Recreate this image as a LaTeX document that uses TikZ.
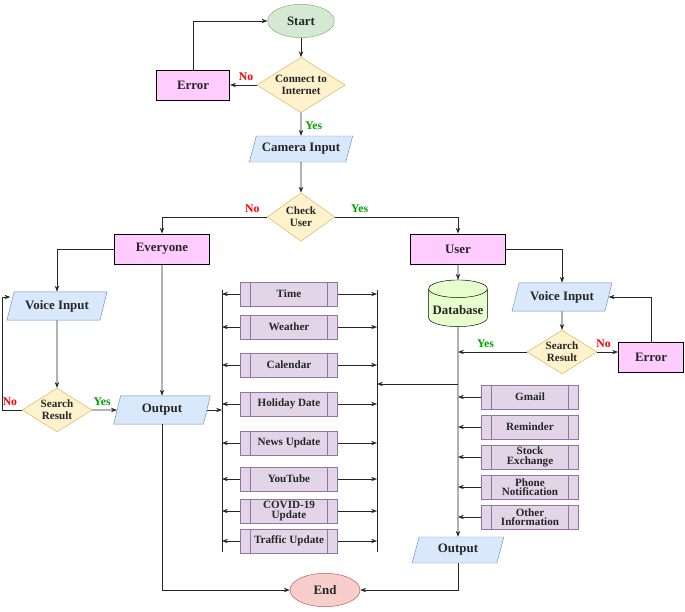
\documentclass[tikz,border=0pt]{standalone}
\usepackage{fontspec}
\setmainfont{Liberation Serif}
\usetikzlibrary{shapes.geometric,arrows.meta}
\definecolor{blfill}{HTML}{DAE8FC}\definecolor{bldraw}{HTML}{6C8EBF}
\definecolor{yefill}{HTML}{FFF2CC}\definecolor{yedraw}{HTML}{D6B656}
\definecolor{grfill}{HTML}{D5E8D4}\definecolor{grdraw}{HTML}{82B366}
\definecolor{rdfill}{HTML}{F8CECC}\definecolor{rddraw}{HTML}{B85450}
\definecolor{pufill}{HTML}{E1D5E7}\definecolor{pudraw}{HTML}{9673A6}
\definecolor{pkfill}{HTML}{FFCCFF}\definecolor{dbfill}{HTML}{E6FFCC}
\definecolor{yesgreen}{HTML}{00A000}
\tikzset{
  every node/.style={font=\fontsize{9.5}{10}\selectfont\bfseries, align=center, text=black!85},
  big/.style={font=\fontsize{11}{12}\selectfont\bfseries},
  term/.style={ellipse, draw=#1draw, fill=#1fill, minimum width=2cm, minimum height=1cm, big},
  decision/.style={diamond, draw=yedraw, fill=yefill, aspect=1.6, inner sep=1pt},
  io/.style={trapezium, trapezium left angle=70, trapezium right angle=110, trapezium stretches body,
    draw=bldraw, fill=blfill, minimum height=0.85cm, big},
  err/.style={rectangle, draw=black, thick, fill=pkfill, minimum width=2cm, minimum height=0.9cm, big},
  group/.style={rectangle, draw=black, thick, fill=pkfill, minimum width=2.85cm, minimum height=0.9cm, big},
  proc/.style={rectangle, draw=pudraw, fill=pufill, minimum width=2.9cm, minimum height=0.72cm, inner sep=1pt,
    path picture={
      \draw[pudraw] ([xshift=0.3cm]path picture bounding box.north west) -- ([xshift=0.3cm]path picture bounding box.south west);
      \draw[pudraw] ([xshift=-0.3cm]path picture bounding box.north east) -- ([xshift=-0.3cm]path picture bounding box.south east);}},
  line/.style={draw=black!85, line width=0.6pt, -{Stealth[length=5pt]}},
  no/.style={text=red, font=\fontsize{10}{11}\selectfont\bfseries},
  yes/.style={text=yesgreen, font=\fontsize{10}{11}\selectfont\bfseries},
}
\begin{document}
\begin{tikzpicture}[x=0.03cm, y=-0.03cm]
\useasboundingbox (0,0) rectangle (685,611);
% top part
\node[term=gr] (start) at (301,21) {Start};
\node[decision, minimum width=2.6cm, minimum height=1.6cm] (net) at (301,85) {Connect to\\Internet};
\node[err, minimum width=2.2cm] (err1) at (193,85) {Error};
\node[io, minimum width=3.1cm, minimum height=0.78cm] (cam) at (301,149) {Camera Input};
\node[decision, minimum width=1.7cm, minimum height=1.45cm] (check) at (301,217) {Check\\User};
\node[group] (every) at (162,249) {Everyone};
\node[group] (user) at (458,249) {User};
% left branch
\node[io, minimum width=3cm] (voice1) at (57,306) {Voice Input};
\node[decision, minimum width=1.95cm, minimum height=1.3cm] (search1) at (57,410) {Search\\Result};
\node[io, minimum width=2.9cm] (out1) at (162,410) {Output};
% right branch
\node[cylinder, shape border rotate=90, aspect=0.3, draw=black, fill=dbfill, minimum width=1.7cm, minimum height=1.4cm, big, text depth=-6pt] (db) at (458,310) {Database};
\node[io, minimum width=3cm] (voice2) at (562,297) {Voice Input};
\node[decision, minimum width=2cm, minimum height=1.15cm] (search2) at (562,352) {Search\\Result};
\node[err, minimum width=1.95cm] (err2) at (651,357) {Error};
\node[io, minimum width=2.75cm, minimum height=0.78cm] (out2) at (458,550) {Output};
\node[term=rd, minimum width=2.1cm] (end) at (325,590) {End};
% buses
\coordinate (lb) at (222,290);
\coordinate (lbe) at (222,552);
\coordinate (rb) at (377,290);
\coordinate (rbe) at (377,552);
\draw[black!85, line width=0.6pt] (lb) -- (lbe) (rb) -- (rbe);
\foreach \name/\txt/\y in {time/Time/294, weather/Weather/327, cal/Calendar/365, hol/Holiday Date/404,
    news/News Update/443, yt/YouTube/479, covid/{COVID-19\\[-2pt]Update}/511, traffic/Traffic Update/541} {
  \node[proc] (\name) at (289,\y) {\txt};
  \draw[line] (\name.west) -- (\name.west -| lb);
  \draw[line] (\name.east) -- (\name.east -| rb);
}
\foreach \name/\txt/\y in {gmail/Gmail/397, remind/Reminder/427, stock/{Stock\\[-2pt]Exchange}/457,
    phone/{Phone\\[-2pt]Notification}/487, other/{Other\\[-2pt]Information}/517} {
  \node[proc] (\name) at (530,\y) {\txt};
  \draw[line] (\name.west) -- (\name.west -| db);
}
% connectors
\draw[line] (start) -- (net);
\draw[line] (net) -- node[no, above, pos=0.4] {No} (err1);
\draw[line] (err1.north) |- (start.west);
\draw[line] (net) -- node[yes, right, pos=0.55] {Yes} (cam);
\draw[line] (cam) -- (check);
\draw[line] (check.west) -| node[no, above, pos=0.07] {No} (every.north);
\draw[line] (check.east) -| node[yes, above, pos=0.1] {Yes} (user.north);
\draw[line] (every.west) -| (voice1.north);
\draw[line] (every.south) -- (out1.north);
\draw[line] (voice1) -- (search1);
\coordinate (lloop) at (2,410);
\coordinate (lloopt) at (2,297);
\draw[line] (search1.west) -- node[no, above, pos=0.6] {No} (lloop) -- (lloopt) -- (lloopt -| voice1.west);
\draw[line] (search1.east) -- node[yes, above, pos=0.4] {Yes} (out1.west);
\draw[line] (out1.east) -- (out1.east -| lb);
\draw[line] (out1.south) |- (end.west);
\draw[line] (user.south) -- (db.north);
\draw[line] (user.east) -| (voice2.north);
\draw[line] (voice2) -- (search2);
\draw[line] (search2.east) -- node[no, above, pos=0.3] {No} (err2.west |- search2.east);
\draw[line] (err2.north) |- (voice2.east);
\draw[line] (search2.west) -- node[yes, above, pos=0.6] {Yes} (search2.west -| db);
\coordinate (dbtap) at (458,384);
\draw[line] (dbtap) -- (dbtap -| rb);
\draw[line] (db.south) -- (out2.north);
\draw[line] (out2.south) |- (end.east);
\end{tikzpicture}
\end{document}
